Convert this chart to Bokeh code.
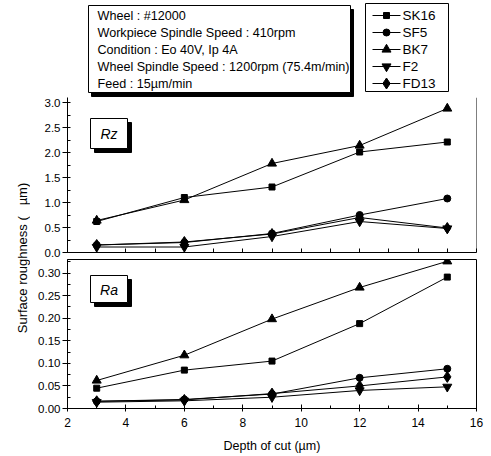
import math
from bokeh.plotting import figure
from bokeh.layouts import row, column
from bokeh.models import Range1d, SingleIntervalTicker, FixedTicker, NumeralTickFormatter, Span
from bokeh.core.properties import value
from bokeh.embed import file_html
from bokeh.resources import INLINE

# ---------------- data ----------------
depth = [3, 6, 9, 12, 15]
series_names = ["SK16", "SF5", "BK7", "F2", "FD13"]

rz_sk16 = [0.62, 1.10, 1.31, 2.01, 2.21]
rz_sf5 = [0.15, 0.20, 0.38, 0.75, 1.08]
rz_bk7 = [0.64, 1.05, 1.78, 2.14, 2.88]
rz_f2 = [0.11, 0.11, 0.32, 0.62, 0.48]
rz_fd13 = [0.15, 0.21, 0.37, 0.70, 0.49]

ra_sk16 = [0.045, 0.085, 0.105, 0.188, 0.291]
ra_sf5 = [0.016, 0.020, 0.032, 0.068, 0.088]
ra_bk7 = [0.062, 0.118, 0.198, 0.268, 0.326]
ra_f2 = [0.014, 0.017, 0.025, 0.040, 0.048]
ra_fd13 = [0.016, 0.019, 0.033, 0.050, 0.070]

info_lines = [
    "Wheel : #12000",
    "Workpiece Spindle Speed : 410rpm",
    "Condition : Eo 40V, Ip 4A",
    "Wheel Spindle Speed : 1200rpm (75.4m/min)",
    "Feed : 15\u00b5m/min",
]
y_title = "Surface roughness (\u00a0\u00a0\u00a0\u00b5m)"
x_title = "Depth of cut (\u00b5m)"

rz_series = [rz_sk16, rz_sf5, rz_bk7, rz_f2, rz_fd13]
ra_series = [ra_sk16, ra_sf5, ra_bk7, ra_f2, ra_fd13]

# ---------------- styles ----------------
FONT = "Liberation Sans"
marker_style = {
    "SK16": ("square", 6),
    "SF5": ("circle", 7),
    "BK7": ("triangle", 9),
    "F2": ("inverted_triangle", 9),
    "FD13": ("diamond", 11),
}

PAGE_W = 491
X_START, X_END = 2, 16
RZ_END = 3.1
RA_END = 0.33
FRAME_W = 409
RZ_H = 155
RA_H = 149
YL_W = 30
LEFT_BORDER = 37
RIGHT_BORDER = PAGE_W - YL_W - LEFT_BORDER - FRAME_W
MAIN_W = LEFT_BORDER + FRAME_W + RIGHT_BORDER
HEADER_H = 97
RZ_FIG_H = RZ_H + 7
RA_BOTTOM = 48
RA_FIG_H = RA_H + RA_BOTTOM
BODY_H = RZ_FIG_H + RA_FIG_H
TOTAL_H = HEADER_H + BODY_H

px_per_x = FRAME_W / (X_END - X_START)


def base_fig(**kw):
    f = figure(output_backend="svg", toolbar_location=None, **kw)
    f.background_fill_color = "white"
    f.border_fill_color = "white"
    f.xgrid.visible = False
    f.ygrid.visible = False
    return f


def style_y(ax, interval, fmt):
    ax.ticker = SingleIntervalTicker(interval=interval, num_minor_ticks=2)
    ax.formatter = NumeralTickFormatter(format=fmt)
    ax.major_label_text_font = FONT
    ax.major_label_text_font_size = "11.5px"
    ax.major_label_text_color = "black"
    ax.major_tick_out = 5
    ax.major_tick_in = 0
    ax.minor_tick_out = 0
    ax.minor_tick_in = 3
    ax.major_label_standoff = 2
    ax.axis_line_color = "black"
    ax.major_tick_line_color = "black"
    ax.minor_tick_line_color = "black"


def add_series(f, ys_list):
    for name, ys in zip(series_names, ys_list):
        m, s = marker_style[name]
        f.line(depth, ys, line_color="black", line_width=1)
        f.scatter(depth, ys, marker=m, size=s, fill_color="black", line_color="black")


# ---------------- header (info box + legend), full page width ----------------
hd = base_fig(width=PAGE_W, height=HEADER_H, x_range=Range1d(0, PAGE_W), y_range=Range1d(0, HEADER_H),
              x_axis_type=None, y_axis_type=None, min_border=0)
hd.outline_line_color = None
# info box with drop shadow
hd.quad(left=[91], right=[353], top=[88], bottom=[1], fill_color="black", line_color="black")
hd.quad(left=[88], right=[350], top=[92], bottom=[5], fill_color="white", line_color="black", line_width=1)
line_y = [82, 65, 48, 31, 14]
hd.text(x=[97] * len(info_lines), y=line_y, text=info_lines, text_align="left", text_baseline="middle",
        text_font=value(FONT), text_font_size="12.6px", text_color="black")
# legend box
hd.quad(left=[365], right=[448], top=[94], bottom=[6], fill_color="white", line_color="black", line_width=1)
for name, ly in zip(series_names, line_y):
    m, s = marker_style[name]
    hd.segment(x0=[372], y0=[ly], x1=[400], y1=[ly], line_color="black", line_width=1)
    hd.scatter([386], [ly], marker=m, size=s, fill_color="black", line_color="black")
hd.text(x=[402] * 5, y=line_y, text=series_names, text_align="left", text_baseline="middle",
        text_font=value(FONT), text_font_size="13.5px", text_color="black")

# ---------------- y label strip ----------------
yl = base_fig(width=YL_W, height=BODY_H, x_range=Range1d(0, YL_W), y_range=Range1d(0, BODY_H),
              x_axis_type=None, y_axis_type=None, min_border=0)
yl.outline_line_color = None
yl.text(x=[22], y=[TOTAL_H - 257.5], text=[y_title], angle=math.pi / 2,
        text_align="center", text_baseline="middle", text_font=value(FONT),
        text_font_size="13px", text_color="black")

# ---------------- Rz plot ----------------
rz = base_fig(width=MAIN_W, height=RZ_FIG_H, x_range=Range1d(X_START, X_END), y_range=Range1d(0, RZ_END),
              min_border_left=LEFT_BORDER, min_border_right=RIGHT_BORDER, min_border_top=0,
              min_border_bottom=7)
rz.outline_line_color = None
style_y(rz.yaxis[0], 0.5, "0.0")
xa = rz.xaxis[0]
xa.ticker = FixedTicker(ticks=[], minor_ticks=list(range(X_START, X_END + 1)))
xa.major_tick_out = 0
xa.major_tick_in = 0
xa.minor_tick_out = 0
xa.minor_tick_in = 4
xa.major_label_standoff = 0
xa.axis_line_color = "black"
xa.minor_tick_line_color = "black"
rz.add_layout(Span(location=X_END, dimension="height", line_color="black", line_width=1))
add_series(rz, rz_series)


def bx(px):
    return X_START + (px - 67) / px_per_x


def by_rz(py):
    return (252 - py) * RZ_END / RZ_H


def by_ra(py):
    return (408 - py) * RA_END / RA_H


sx = 4 / px_per_x
rz.quad(left=[bx(90) + sx], right=[bx(127) + sx], top=[by_rz(118 + 4)], bottom=[by_rz(148 + 4)],
        fill_color="black", line_color="black")
rz.quad(left=[bx(90)], right=[bx(127)], top=[by_rz(118)], bottom=[by_rz(148)],
        fill_color="white", line_color="black")
rz.text(x=[bx(108.5)], y=[by_rz(133)], text=["Rz"], text_align="center", text_baseline="middle",
        text_font=value(FONT), text_font_size="14px", text_font_style="italic", text_color="black")

# ---------------- Ra plot ----------------
ra = base_fig(width=MAIN_W, height=RA_FIG_H, x_range=Range1d(X_START, X_END), y_range=Range1d(0, RA_END),
              min_border_left=LEFT_BORDER, min_border_right=RIGHT_BORDER, min_border_top=0,
              min_border_bottom=RA_BOTTOM)
ra.outline_line_color = "black"
ra.outline_line_width = 1
style_y(ra.yaxis[0], 0.05, "0.00")
xb = ra.xaxis[0]
xb.ticker = SingleIntervalTicker(interval=2, num_minor_ticks=2)
xb.major_label_text_font = FONT
xb.major_label_text_font_size = "12px"
xb.major_label_text_color = "black"
xb.major_tick_out = 3
xb.major_tick_in = 4
xb.minor_tick_out = 0
xb.minor_tick_in = 3
xb.major_label_standoff = 6
xb.axis_line_color = "black"
xb.axis_label = x_title
xb.axis_label_text_font = FONT
xb.axis_label_text_font_size = "12.5px"
xb.axis_label_text_font_style = "normal"
xb.axis_label_text_color = "black"
xb.axis_label_standoff = 9
add_series(ra, ra_series)

ra.quad(left=[bx(90) + sx], right=[bx(127) + sx], top=[by_ra(275 + 4)], bottom=[by_ra(302 + 4)],
        fill_color="black", line_color="black")
ra.quad(left=[bx(90)], right=[bx(127)], top=[by_ra(275)], bottom=[by_ra(302)],
        fill_color="white", line_color="black")
ra.text(x=[bx(108.5)], y=[by_ra(289)], text=["Ra"], text_align="center", text_baseline="middle",
        text_font=value(FONT), text_font_size="14px", text_font_style="italic", text_color="black")

layout = column(hd, row(yl, column(rz, ra)))

with open("out.html", "w") as fh:
    fh.write(file_html(layout, INLINE))
